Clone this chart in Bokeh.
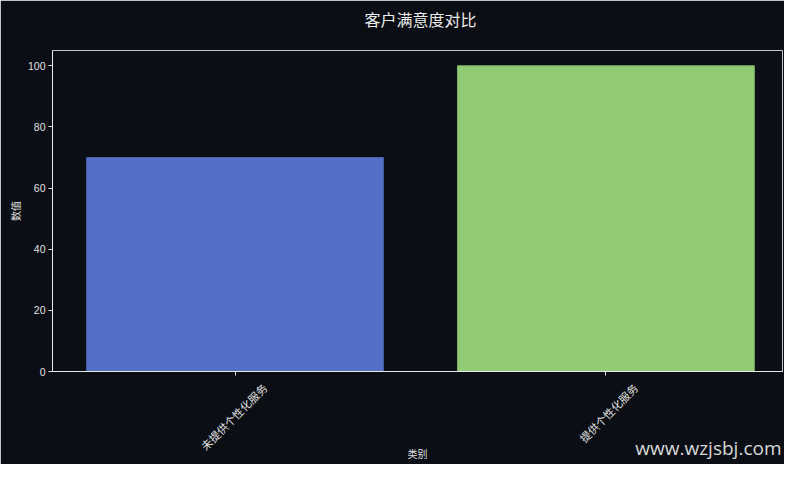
from math import pi
from bokeh.plotting import figure
from bokeh.models import ColumnDataSource, Range1d, Label, LinearAxis, FixedTicker
from bokeh.embed import file_html
from bokeh.resources import INLINE

categories = ["未提供个性化服务", "提供个性化服务"]
values = [70, 100]
colors = ["#5470c6", "#91cc75"]
edge_colors = ["#4a62ad", "#80b566"]
y_ticks = [0, 20, 40, 60, 80, 100]

BG = "#0b0e14"
CJK = "Noto Sans CJK SC"
TXT = "#e0e0e0"

x_idx = list(range(len(categories)))
src = ColumnDataSource(dict(x=x_idx, cat=categories, val=values, color=colors, edge=edge_colors))

p = figure(width=784, height=464, x_range=Range1d(-0.492, 1.476),
           y_range=Range1d(0, 105), output_backend="svg", toolbar_location=None,
           min_border_left=52, min_border_right=2, min_border_top=46, min_border_bottom=93)

p.background_fill_color = BG
p.border_fill_color = BG
p.outline_line_color = "#c8c8c8"
p.outline_line_width = 1
p.xgrid.grid_line_color = None
p.ygrid.grid_line_color = None

p.vbar(x="x", top="val", width=0.8, source=src, fill_color="color", line_color="edge", line_width=1)

# title and watermark as canvas-positioned labels in the top side panel
p.add_layout(Label(x=420, y=18, x_units="canvas", y_units="canvas", text="客户满意度对比",
                   text_font=CJK, text_font_size="16px", text_color="#ececec",
                   text_align="center", text_baseline="middle"), "above")
p.add_layout(Label(x=781, y=447, x_units="canvas", y_units="canvas", text="www.wzjsbj.com",
                   text_font="Open Sans", text_font_size="19px", text_color="#d8d8d8",
                   text_align="right", text_baseline="middle"), "above")

for ax in (p.xaxis[0], p.yaxis[0]):
    ax.axis_line_color = "#e8e8e8"
    ax.major_tick_line_color = "#e0e0e0"
    ax.minor_tick_line_color = None
    ax.major_tick_out = 4
    ax.major_tick_in = 0
    ax.major_label_text_color = TXT
    ax.major_label_text_font_size = "10px"
    ax.axis_label_text_color = TXT
    ax.axis_label_text_font_size = "10px"
    ax.axis_label_text_font_style = "normal"
    ax.axis_label_text_font = CJK

p.yaxis.ticker = y_ticks
p.yaxis.major_label_text_font = "Liberation Sans"
p.yaxis.major_label_text_font_size = "10.5px"
p.yaxis.axis_label = "数值"
p.yaxis.axis_label_standoff = 2
p.yaxis.major_label_standoff = 3

# x axis: tick marks at category centres
xa = p.xaxis[0]
xa.ticker = FixedTicker(ticks=x_idx)
xa.major_label_text_alpha = 0
xa.major_label_standoff = 0

# second x axis: rotated category labels centred under the ticks
label_shift = 0.08
lab_ticks = [i + label_shift for i in x_idx]
xa2 = LinearAxis(ticker=FixedTicker(ticks=lab_ticks),
                 major_label_overrides={t: c for t, c in zip(lab_ticks, categories)},
                 axis_line_color=None, major_tick_line_color=None, minor_tick_line_color=None,
                 major_tick_out=0, major_tick_in=0, major_label_standoff=10,
                 major_label_orientation=pi / 4, major_label_text_font=CJK,
                 major_label_text_font_size="11px", major_label_text_color=TXT,
                 axis_label="类别", axis_label_standoff=-16, axis_label_text_font=CJK,
                 axis_label_text_font_size="10px", axis_label_text_color=TXT,
                 axis_label_text_font_style="normal")
p.add_layout(xa2, "below")

open("out.html", "w").write(file_html(p, INLINE))
